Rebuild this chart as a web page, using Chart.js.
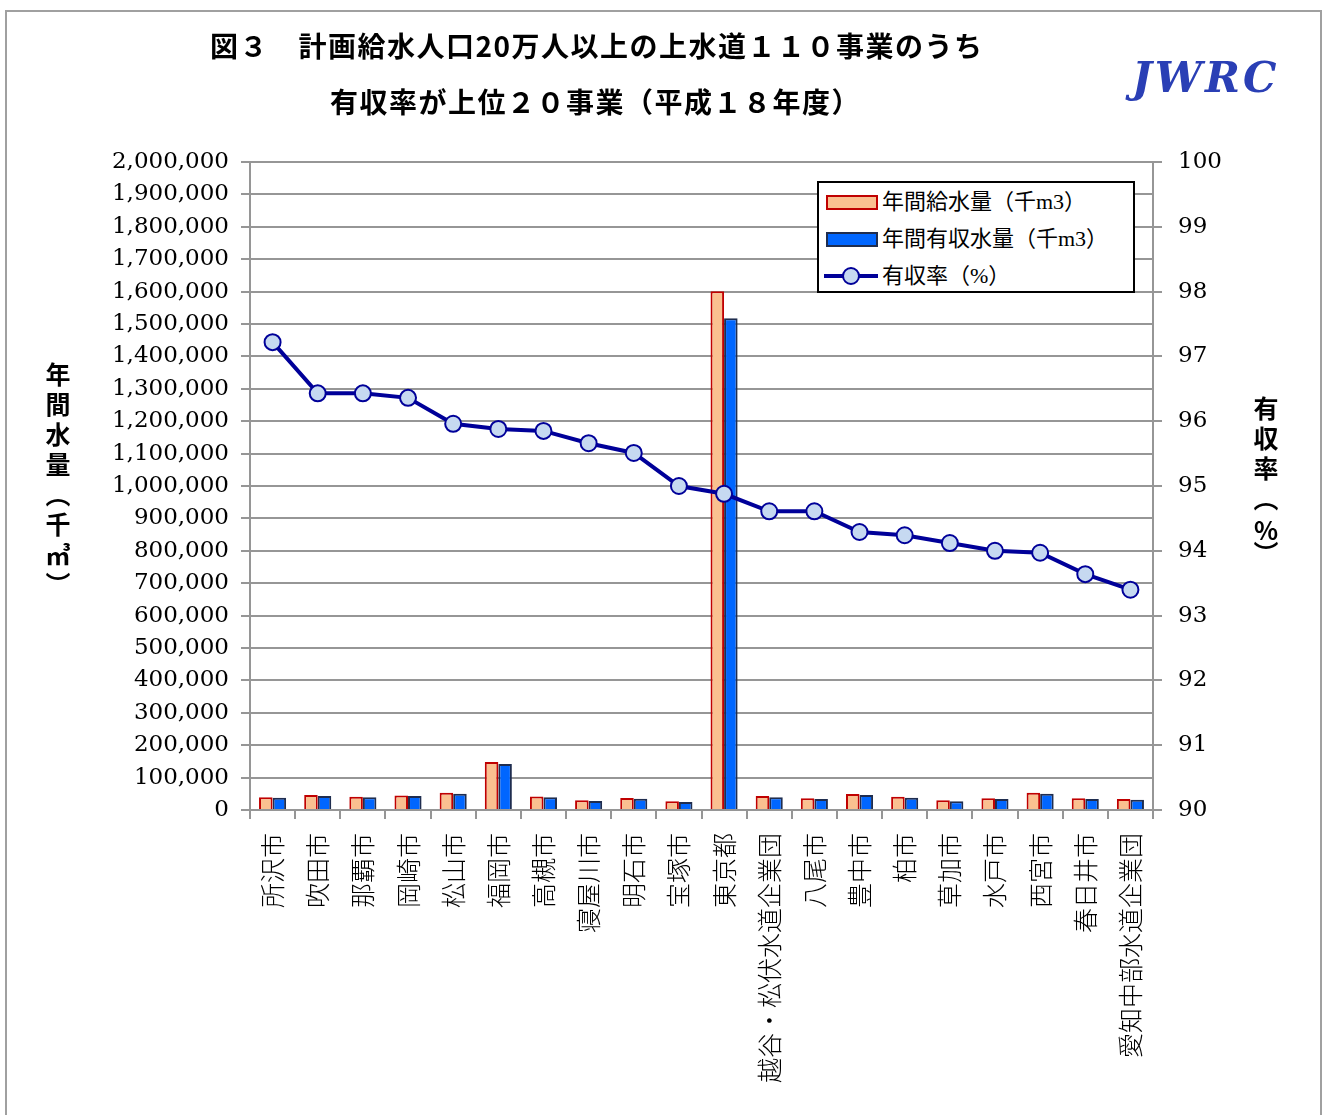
<!DOCTYPE html>
<html><head>
<meta charset="UTF-8">
<title>図３ 有収率が上位２０事業</title>
<script src="https://cdn.jsdelivr.net/npm/chart.js@4"></script>
<style>
  body { margin: 0; background: #fff; }
  #wrap { position: relative; width: 1325px; height: 1115px; overflow: hidden; }
  #frame { position: absolute; left: 5px; top: 10px; width: 1313px; height: 1120px; border: 2px solid #a0a0a0; }
  canvas { position: absolute; left: 0; top: 0; }
  .ttl { position: absolute; font-family: "Noto Sans CJK JP"; font-weight: bold; font-size: 28px; line-height: 28px; letter-spacing: 1.5px; white-space: nowrap; color: #000; }
  #jwrc { position: absolute; left: 1132px; top: 56px; font-family: "DejaVu Serif"; font-weight: bold; font-style: italic; font-size: 42px; line-height: 44px; letter-spacing: 3px; color: #2a3fb5; }
  .vt { position: absolute; writing-mode: vertical-rl; font-family: "Noto Sans CJK JP"; font-weight: bold; font-size: 25px; letter-spacing: 5px; color: #000; }
  .up { text-combine-upright: all; }
  #legend { position: absolute; left: 817px; top: 181px; width: 314px; height: 108px; border: 2px solid #000; background: #fff;
            font-family: "Liberation Serif", "Noto Sans CJK JP"; font-size: 22px; }
  .li { position: absolute; left: 0; height: 30px; line-height: 30px; white-space: nowrap; }
  .li span.t { position: absolute; left: 63px; top: 0; }
  .sw { position: absolute; left: 7px; top: 8px; width: 48px; height: 11px; border: 2px solid; }
  .ln { position: absolute; left: 5px; top: 13px; width: 54px; height: 4px; }
  .pt { position: absolute; left: 23px; top: 6px; width: 14px; height: 14px; border: 2px solid; border-radius: 50%; }
</style>
</head><body>
<div id="wrap">
  <div id="frame"></div>
  <canvas id="chart" width="1325" height="1115"></canvas>
  <div class="ttl" style="left:210px;top:31px;">図３　計画給水人口20万人以上の上水道１１０事業のうち</div>
  <div class="ttl" style="left:330px;top:87px;">有収率が上位２０事業（平成１８年度）</div>
  <div id="jwrc">JWRC</div>
  <div class="vt" style="left:40px;top:362px;">年間水量（千㎥）</div>
  <div class="vt" style="left:1248px;top:396px;">有収率（<span class="up">%</span>）</div>
  <div id="legend"></div>
</div>
<script>
  const categories = ['所沢市', '吹田市', '那覇市', '岡崎市', '松山市', '福岡市', '高槻市', '寝屋川市', '明石市', '宝塚市',
    '東京都', '越谷・松伏水道企業団', '八尾市', '豊中市', '柏市', '草加市', '水戸市', '西宮市', '春日井市', '愛知中部水道企業団'];
  // 千m3
  const supplyVolume = [39000, 46000, 41000, 45000, 53000, 148000, 42000, 30000, 37000, 27000,
    1601000, 43000, 36000, 49000, 41000, 30000, 36000, 53000, 36000, 34000];
  const revenueVolume = [38000, 43000, 39000, 43000, 50000, 142000, 39000, 28000, 35000, 25000,
    1518000, 39000, 34000, 46000, 38000, 27000, 34000, 50000, 34000, 32000];
  // %
  const revenueRate = [97.22, 96.43, 96.43, 96.36, 95.96, 95.88, 95.85, 95.66, 95.51, 95.00,
    94.88, 94.61, 94.61, 94.29, 94.24, 94.12, 94.00, 93.97, 93.64, 93.40];

  const gridGray = '#969696';
  const tickFont = { family: '"DejaVu Serif"', size: 23 };

  const datasets = [
    {
      type: 'bar', label: '年間給水量（千m3）', data: supplyVolume, yAxisID: 'y', order: 1,
      backgroundColor: '#fac090', borderColor: '#c00000', borderWidth: 2,
      categoryPercentage: 0.6, barPercentage: 1,
    },
    {
      type: 'bar', label: '年間有収水量（千m3）', data: revenueVolume, yAxisID: 'y', order: 1,
      backgroundColor: '#0066ff', borderColor: '#1f2d4f', borderWidth: 2,
      categoryPercentage: 0.6, barPercentage: 1,
    },
    {
      type: 'line', label: '有収率（%）', data: revenueRate, yAxisID: 'y1', order: 0,
      borderColor: '#000099', borderWidth: 4, tension: 0,
      pointRadius: 8, pointBackgroundColor: '#c6d9f1', pointBorderColor: '#000099', pointBorderWidth: 2,
    },
  ];

  new Chart(document.getElementById('chart'), {
    data: { labels: categories, datasets },
    options: {
      responsive: false,
      animation: false,
      layout: { padding: { top: 162, left: 0, right: 0, bottom: 0 } },
      plugins: { legend: { display: false }, tooltip: { enabled: false } },
      scales: {
        x: {
          offset: true,
          grid: { offset: true, drawOnChartArea: false, color: gridGray, lineWidth: 2, tickLength: 9 },
          border: { color: gridGray, width: 2 },
          ticks: {
            minRotation: 90, maxRotation: 90, autoSkip: false, padding: 14, color: '#000',
            font: { family: '"Noto Sans CJK JP"', size: 25, weight: '300' },
          },
          afterFit: (s) => { s.height = 305; },
        },
        y: {
          position: 'left', min: 0, max: 2000000,
          grid: { color: gridGray, lineWidth: 2, tickLength: 9 },
          border: { color: gridGray, width: 2 },
          ticks: {
            stepSize: 100000, padding: 12, color: '#000', font: tickFont,
            callback: (v) => v.toLocaleString('en-US'),
          },
          afterFit: (s) => { s.width = 250; },
        },
        y1: {
          position: 'right', min: 90, max: 100,
          grid: { drawOnChartArea: false, color: gridGray, lineWidth: 2, tickLength: 9 },
          border: { color: gridGray, width: 2 },
          ticks: { stepSize: 1, padding: 16, color: '#000', font: tickFont },
          afterFit: (s) => { s.width = 172; },
        },
      },
    },
  });

  // 凡例（グラフ内の枠）
  const legend = document.getElementById('legend');
  datasets.forEach((ds, i) => {
    const row = document.createElement('div');
    row.className = 'li';
    row.style.top = (4 + i * 37) + 'px';
    if (ds.type === 'bar') {
      row.innerHTML = `<div class="sw" style="background:${ds.backgroundColor};border-color:${ds.borderColor}"></div>`;
    } else {
      row.innerHTML = `<div class="ln" style="background:${ds.borderColor}"></div>`
        + `<div class="pt" style="background:${ds.pointBackgroundColor};border-color:${ds.pointBorderColor}"></div>`;
    }
    row.innerHTML += `<span class="t">${ds.label}</span>`;
    legend.appendChild(row);
  });
</script>
</body></html>
